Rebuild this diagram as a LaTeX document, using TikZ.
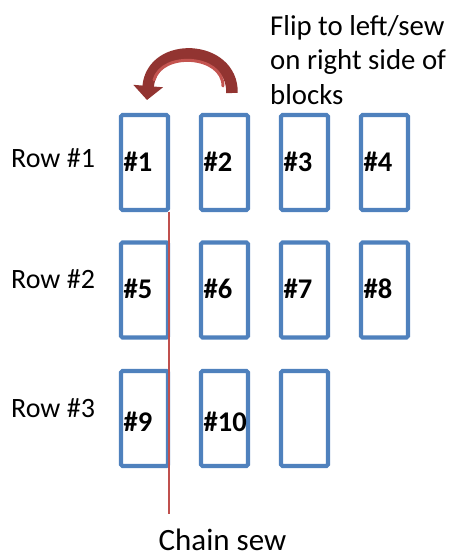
\documentclass[tikz,border=0pt]{standalone}
\usepackage{fontspec}
\setmainfont{Carlito}
\usetikzlibrary{arrows.meta}
\definecolor{blockblue}{RGB}{79,129,189}
\definecolor{chainred}{RGB}{192,80,77}
\definecolor{arrowdark}{RGB}{146,52,49}
\definecolor{arrowlight}{RGB}{196,84,80}
\begin{document}
\begin{tikzpicture}[x=1pt,y=-1pt,
  block/.style={draw=blockblue,line width=4.2pt,rounded corners=1.5pt,minimum width=47pt,minimum height=95pt,outer sep=0pt,inner sep=0pt},
  num/.style={font=\fontsize{28.5}{30}\selectfont\bfseries,anchor=base west,inner sep=0pt},
  rowlbl/.style={font=\fontsize{28}{30}\selectfont,anchor=base west,inner sep=0pt},
  note/.style={font=\fontsize{28.8}{34.5}\selectfont,inner sep=0pt}]
\useasboundingbox (0,0) rectangle (451,557);
% blocks
\foreach \c/\x in {1/144.5,2/224.5,3/304.5,4/384.5}{
  \node[block] (b\c) at (\x,162.5) {};}
\foreach \c/\x in {5/144.5,6/224.5,7/304.5,8/384.5}{
  \node[block] (b\c) at (\x,290) {};}
\foreach \c/\x in {9/144.5,10/224.5,11/304.5}{
  \node[block] (b\c) at (\x,418.5) {};}
% block numbers
\foreach \c in {1,...,8}{
  \node[num] (n\c) at ([shift={(-21,8.5)}]b\c.center) {\#\c};}
\foreach \c in {9,10}{
  \node[num] (n\c) at ([shift={(-21,12.5)}]b\c.center) {\#\c};}
% row labels
\node[rowlbl] (r1) at (11,167) {Row \#1};
\node[rowlbl] (r2) at (11,288.5) {Row \#2};
\node[rowlbl] (r3) at (11,417) {Row \#3};
% chain sew line
\coordinate (lineend) at (169,514);
\draw[chainred,line width=1.5pt] ([shift={(1,1.5)}]b1.south east) -- (lineend);
\node[note,font=\fontsize{31}{34}\selectfont,anchor=base] (chain) at (222.5,550) {Chain sew};
% flip note
\node[note,anchor=base west,align=left] (flip) at (270,104) {Flip to left/sew\\on right side of\\blocks};
% curved arrow
\coordinate (tail) at (232,93);
\coordinate (tip) at (147,100);
\draw[arrowdark,line width=11.5pt,-{Triangle[width=29pt,length=14pt]}]
  (tail) .. controls (233,44) and (152,40) .. (tip);
\draw[arrowlight,line width=3pt,line cap=round]
  (223,86) .. controls (223,55) and (162,51) .. (154,80);
\end{tikzpicture}
\end{document}
